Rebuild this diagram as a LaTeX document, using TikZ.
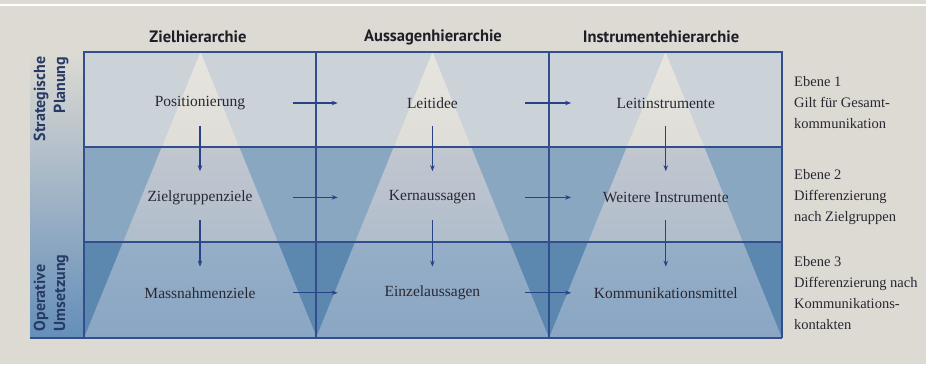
\documentclass[tikz,border=0pt]{standalone}
\usepackage{fontspec}
\setmainfont{Liberation Serif}
\newfontfamily\headfont{PT Sans}
\usepackage{tikz}
\usetikzlibrary{positioning,arrows.meta,calc}

\definecolor{paper}{RGB}{221,218,211}
\definecolor{gridblue}{RGB}{50,78,140}
\definecolor{arrowblue}{RGB}{40,66,135}
\definecolor{inkgrey}{RGB}{40,40,50}
\definecolor{inkdark}{RGB}{30,30,40}
\definecolor{navy}{RGB}{38,58,100}
\definecolor{rowA}{RGB}{203,210,216}
\definecolor{rowB}{RGB}{138,167,194}
\definecolor{rowC}{RGB}{92,136,176}
\definecolor{triAtop}{RGB}{231,229,222}
\definecolor{triA}{RGB}{222,221,216}
\definecolor{triBtop}{RGB}{194,199,207}
\definecolor{triB}{RGB}{176,189,204}
\definecolor{triCtop}{RGB}{150,174,199}
\definecolor{triC}{RGB}{138,166,196}
\definecolor{sidebot}{RGB}{100,142,185}

\begin{document}
\begin{tikzpicture}[
        x=1pt, y=-1pt,
        node distance=64pt and 82pt,
        every node/.style={font=\fontsize{15.5}{21}\selectfont, text=inkgrey},
        item/.style={
            minimum width=150pt,
            minimum height=30pt,
            inner sep=0pt
        },
        colhead/.style={
            font=\headfont\bfseries\fontsize{16.5}{18}\selectfont,
            text=inkdark
        },
        sidehead/.style={
            font=\headfont\bfseries\fontsize{16}{20}\selectfont,
            text=navy,
            rotate=90
        },
        level/.style={anchor=west, align=left, inner sep=0pt, font=\fontsize{14.5}{21}\selectfont},
        gridline/.style={draw=gridblue, line width=1.4pt},
        >={Stealth[length=6pt,width=4.5pt]},
        flow/.style={->, line width=1.1pt, draw=arrowblue, shorten <=17.5pt, shorten >=19.5pt},
        down/.style={->, line width=1.1pt, draw=arrowblue, shorten <=7.5pt, shorten >=11pt}
    ]
        \useasboundingbox (0,0) rectangle (926,364);
        \fill[paper] (0,0) rectangle (926,364);
        \draw[white, line width=2pt] (0,4.5) -- (926,4.5);

        % Side bar and rows
        \shade[top color=paper, bottom color=sidebot] (30,52) rectangle (84,338);
        \fill[rowA] (84,52) rectangle (782,147);
        \fill[rowB] (84,147) rectangle (782,242);
        \fill[rowC] (84,242) rectangle (782,338);

        % Pyramids
        \foreach \cx in {84,316,549} {
            \begin{scope}
                \clip (\cx,338) -- (\cx+116.5,52) -- (\cx+233,338) -- cycle;
                \shade[top color=triAtop, bottom color=triA] (\cx,52) rectangle (\cx+233,147);
                \shade[top color=triBtop, bottom color=triB] (\cx,147) rectangle (\cx+233,242);
                \shade[top color=triCtop, bottom color=triC] (\cx,242) rectangle (\cx+233,338);
            \end{scope}
        }

        % Grid
        \draw[gridline] (84,338) -- (84,52) -- (782,52) -- (782,338);
        \draw[gridline] (30,338) -- (782,338);
        \draw[gridline] (84,147) -- (782,147);
        \draw[gridline] (84,242) -- (782,242);
        \draw[gridline] (316,52) -- (316,338);
        \draw[gridline] (549,52) -- (549,338);

        % Column heads and side heads
        \node[colhead] (h_ziel) at (198,37) {Zielhierarchie};
        \node[colhead] (h_aussage) at (433,37) {Aussagenhierarchie};
        \node[colhead] (h_instr) at (661,37) {Instrumentehierarchie};
        \node[sidehead, align=right] (s_plan) at (51,99) {Strategische\\Planung};
        \node[sidehead, align=left] (s_umsetz) at (51,293) {Operative\\Umsetzung};

        % Items
        \node[item] (pos) at (200,103) {Positionierung};
        \node[item, below=of pos] (zgz) {Zielgruppenziele};
        \node[item, below=65pt of zgz] (mnz) {Massnahmenziele};

        \node[item, right=of pos] (leit) {Leitidee};
        \node[item, right=of zgz] (kern) {Kernaussagen};
        \node[item, right=of mnz] (einz) {Einzelaussagen};

        \node[item, right=83pt of leit] (linst) {Leitinstrumente};
        \node[item, right=83pt of kern] (winst) {Weitere Instrumente};
        \node[item, right=83pt of einz] (kmit) {Kommunikationsmittel};

        % Levels
        \node[level, right=53pt of linst] (ebene1) {Ebene 1\\Gilt für Gesamt-\\kommunikation};
        \node[level, right=53pt of winst] (ebene2) {Ebene 2\\Differenzierung\\nach Zielgruppen};
        \node[level, right=53pt of kmit] (ebene3) {Ebene 3\\Differenzierung nach\\Kommunikations-\\kontakten};

        % Across
        \draw[flow] (pos) -- (leit);
        \draw[flow] (leit) -- (linst);
        \draw[flow] (zgz) -- (kern);
        \draw[flow] (kern) -- (winst);
        \draw[flow] (mnz) -- (einz);
        \draw[flow] (einz) -- (kmit);

        % Down
        \draw[down] (pos) -- (zgz);
        \draw[down] (zgz) -- (mnz);
        \draw[down] (leit) -- (kern);
        \draw[down] (kern) -- (einz);
        \draw[down] (linst) -- (winst);
        \draw[down] (winst) -- (kmit);

\end{tikzpicture}
\end{document}
